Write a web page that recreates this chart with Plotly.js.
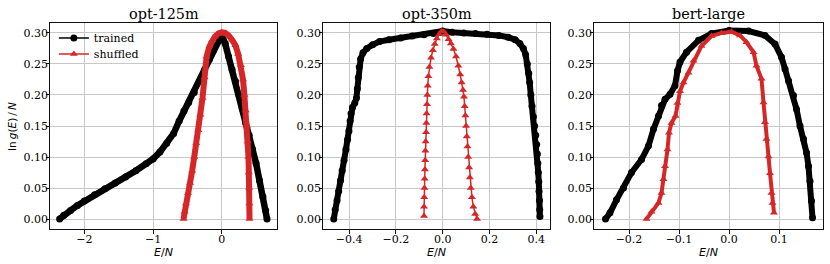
<!DOCTYPE html>
<html>
<head>
<meta charset="utf-8">
<script src="https://cdn.plot.ly/plotly-3.0.1.min.js"></script>
<style>html,body{margin:0;padding:0;background:#fff;}#chart{width:830px;height:264px;}</style>
</head>
<body>
<div id="chart"></div>
<script>
// ---- Data ----
const panelTitles = ["opt-125m", "opt-350m", "bert-large"];
const seriesNames = ["trained", "shuffled"];

// opt-125m
const opt125TrainedX = [-2.36,-2.30,-2.20,-2.10,-2.00,-1.85,-1.70,-1.55,-1.40,-1.25,-1.10,-1.00,-0.90,-0.80,-0.70,-0.62,-0.55,-0.48,-0.40,-0.32,-0.25,-0.18,-0.12,-0.06,0.00,0.05,0.10,0.15,0.20,0.25,0.30,0.35,0.40,0.45,0.50,0.55,0.60,0.64,0.66];
const opt125TrainedY = [0.000,0.006,0.014,0.022,0.029,0.039,0.049,0.058,0.068,0.078,0.089,0.097,0.108,0.122,0.138,0.158,0.174,0.188,0.204,0.222,0.240,0.257,0.272,0.286,0.297,0.283,0.262,0.241,0.222,0.200,0.178,0.155,0.135,0.113,0.090,0.062,0.036,0.014,0.000];
const opt125ShuffledX = [-0.556,-0.54,-0.52,-0.49,-0.46,-0.43,-0.40,-0.37,-0.34,-0.31,-0.28,-0.25,-0.22,-0.18,-0.14,-0.10,-0.05,0.00,0.05,0.10,0.15,0.20,0.24,0.28,0.31,0.33,0.35,0.37,0.38,0.39,0.395,0.40,0.403,0.405];
const opt125ShuffledY = [0.000,0.012,0.025,0.042,0.058,0.078,0.100,0.122,0.143,0.168,0.195,0.228,0.262,0.278,0.288,0.294,0.299,0.301,0.300,0.296,0.289,0.280,0.266,0.248,0.225,0.200,0.175,0.150,0.125,0.100,0.075,0.050,0.025,0.000];

// opt-350m
const opt350TrainedX = [-0.466,-0.460,-0.452,-0.445,-0.437,-0.430,-0.422,-0.414,-0.407,-0.401,-0.396,-0.392,-0.386,-0.376,-0.369,-0.365,-0.361,-0.357,-0.351,-0.341,-0.325,-0.300,-0.270,-0.230,-0.180,-0.130,-0.080,-0.040,0.000,0.040,0.090,0.140,0.190,0.240,0.280,0.310,0.330,0.345,0.355,0.362,0.368,0.372,0.377,0.382,0.388,0.393,0.398,0.402,0.405,0.407,0.409,0.411,0.412,0.414,0.415,0.416];
const opt350TrainedY = [0.000,0.015,0.030,0.045,0.062,0.078,0.095,0.112,0.128,0.142,0.158,0.170,0.180,0.187,0.195,0.210,0.228,0.245,0.258,0.268,0.275,0.281,0.286,0.289,0.292,0.295,0.297,0.299,0.303,0.301,0.300,0.299,0.298,0.296,0.293,0.289,0.283,0.275,0.265,0.250,0.235,0.220,0.200,0.182,0.165,0.150,0.135,0.120,0.105,0.090,0.075,0.060,0.045,0.030,0.015,0.004];
const opt350ShuffledX = [-0.080,-0.080,-0.079,-0.078,-0.077,-0.076,-0.075,-0.074,-0.073,-0.071,-0.070,-0.069,-0.067,-0.066,-0.064,-0.061,-0.057,-0.050,-0.042,-0.034,-0.025,-0.015,-0.005,0.005,0.015,0.025,0.035,0.046,0.057,0.067,0.075,0.081,0.087,0.091,0.094,0.097,0.100,0.103,0.106,0.109,0.113,0.116,0.120,0.125,0.131,0.139,0.147];
const opt350ShuffledY = [0.005,0.020,0.035,0.050,0.065,0.080,0.095,0.110,0.125,0.140,0.155,0.170,0.185,0.200,0.215,0.230,0.245,0.260,0.272,0.282,0.291,0.298,0.303,0.302,0.297,0.290,0.283,0.274,0.262,0.247,0.233,0.220,0.208,0.197,0.182,0.167,0.150,0.133,0.117,0.100,0.083,0.067,0.050,0.035,0.020,0.008,0.000];

// bert-large
const bertTrainedX = [-0.247,-0.238,-0.225,-0.211,-0.195,-0.175,-0.161,-0.151,-0.141,-0.135,-0.128,-0.118,-0.108,-0.103,-0.098,-0.085,-0.061,-0.035,0.000,0.039,0.072,0.092,0.105,0.112,0.119,0.129,0.135,0.142,0.149,0.155,0.159,0.162,0.165,0.167];
const bertTrainedY = [0.000,0.010,0.031,0.050,0.075,0.096,0.118,0.145,0.166,0.183,0.193,0.201,0.215,0.239,0.253,0.269,0.288,0.299,0.304,0.303,0.296,0.282,0.261,0.242,0.223,0.199,0.177,0.150,0.129,0.107,0.085,0.061,0.029,0.002];
const bertShuffledX = [-0.165,-0.155,-0.141,-0.135,-0.131,-0.128,-0.123,-0.120,-0.115,-0.107,-0.103,-0.098,-0.091,-0.081,-0.071,-0.055,-0.035,-0.015,0.005,0.022,0.035,0.049,0.055,0.065,0.069,0.072,0.075,0.079,0.082,0.085,0.087,0.090];
const bertShuffledY = [0.000,0.012,0.026,0.042,0.064,0.085,0.112,0.139,0.155,0.166,0.187,0.206,0.220,0.236,0.255,0.279,0.295,0.300,0.302,0.296,0.285,0.269,0.247,0.226,0.188,0.156,0.129,0.101,0.074,0.042,0.026,0.010];

// ---- Layout helpers ----
const domains = [[0, 227/773], [273/773, 500/773], [544/773, 1]];
const xRanges = [[-2.5, 0.805], [-0.512, 0.459], [-0.27, 0.188]];
const xDticks = [1, 0.2, 0.1];
const xFormats = [".0f", ".1f", ".1f"];
const yRange = [-0.016, 0.316];

const BLACK = "#000000";
const RED = "#d62728";
const TICKFONT = {family: "DejaVu Serif", size: 11, color: "#000"};

function trace(x, y, ax, color, symbol, lw, ms) {
  return {
    x: x, y: y, xaxis: "x" + (ax === 1 ? "" : ax), yaxis: "y" + (ax === 1 ? "" : ax),
    mode: "lines+markers", type: "scatter", showlegend: false,
    line: {color: color, width: lw},
    marker: {color: color, symbol: symbol, size: ms, line: {width: 0}},
    hoverinfo: "skip"
  };
}

const data = [
  trace(opt125TrainedX, opt125TrainedY, 1, BLACK, "circle", 6.5, 7),
  trace(opt125ShuffledX, opt125ShuffledY, 1, RED, "triangle-up", 6, 7),
  trace(opt350TrainedX, opt350TrainedY, 2, BLACK, "circle", 6, 7),
  trace(opt350ShuffledX, opt350ShuffledY, 2, RED, "triangle-up", 1.5, 7),
  trace(bertTrainedX, bertTrainedY, 3, BLACK, "circle", 6, 7),
  trace(bertShuffledX, bertShuffledY, 3, RED, "triangle-up", 4, 7),
  // legend entries (no points)
  {x: [null], y: [null], mode: "lines+markers", name: seriesNames[0], showlegend: true, legend: "legend",
   line: {color: BLACK, width: 1.5}, marker: {color: BLACK, symbol: "circle", size: 7}},
  {x: [null], y: [null], mode: "lines+markers", name: seriesNames[1], showlegend: true, legend: "legend2",
   line: {color: RED, width: 1.5}, marker: {color: RED, symbol: "triangle-up", size: 7}}
];
// empty traces so the label-only axes are built
for (let i = 0; i < 3; i++) {
  data.push({x: [null], y: [null], xaxis: "x" + (4 + i), yaxis: "y" + (4 + i), mode: "markers",
             showlegend: false, hoverinfo: "skip"});
}

const legendCommon = {xanchor: "left", yanchor: "middle", bgcolor: "rgba(0,0,0,0)", borderwidth: 0,
  font: {family: "DejaVu Serif", size: 11, color: "#000"}, itemwidth: 30};

const layout = {
  width: 830, height: 264,
  margin: {l: 50, r: 7, t: 23, b: 35, pad: 0},
  paper_bgcolor: "#ffffff", plot_bgcolor: "#ffffff",
  font: {family: "DejaVu Serif", size: 11, color: "#000"},
  showlegend: true,
  legend: Object.assign({x: 0.005, y: 1 - (38 - 23) / 206}, legendCommon),
  legend2: Object.assign({x: 0.005, y: 1 - (54 - 23) / 206}, legendCommon),
  annotations: []
};

for (let i = 0; i < 3; i++) {
  const sfx = i === 0 ? "" : String(i + 1);
  // frame, grid and tick marks
  layout["xaxis" + sfx] = {
    domain: domains[i], range: xRanges[i], anchor: "y" + sfx,
    dtick: xDticks[i], tick0: 0, showticklabels: false,
    showgrid: true, gridcolor: "#c8c8c8", gridwidth: 1, zeroline: false,
    showline: true, linecolor: "#111", linewidth: 1, mirror: true,
    ticks: "outside", ticklen: 3.5, tickwidth: 1, tickcolor: "#111"
  };
  layout["yaxis" + sfx] = {
    domain: [0, 1], range: yRange, anchor: "x" + sfx,
    dtick: 0.05, tick0: 0, showticklabels: false,
    showgrid: true, gridcolor: "#c8c8c8", gridwidth: 1, zeroline: false,
    showline: true, linecolor: "#111", linewidth: 1, mirror: true,
    ticks: "outside", ticklen: 3.5, tickwidth: 1, tickcolor: "#111"
  };
  // tick-label axes (same scales, labels only)
  layout["xaxis" + (4 + i)] = {
    overlaying: "x" + sfx, anchor: "free", position: 0, side: "bottom",
    range: xRanges[i], dtick: xDticks[i], tick0: 0, tickformat: xFormats[i],
    showgrid: false, zeroline: false, showline: false, ticks: "",
    ticklabelstandoff: 2, tickfont: TICKFONT
  };
  layout["yaxis" + (4 + i)] = {
    overlaying: "y" + sfx, anchor: "free", position: domains[i][0], side: "left",
    range: yRange, dtick: 0.05, tick0: 0, tickformat: ".2f",
    showgrid: false, zeroline: false, showline: false, ticks: "",
    ticklabelstandoff: 2, tickfont: TICKFONT
  };
  const cx = (domains[i][0] + domains[i][1]) / 2;
  layout.annotations.push({
    text: panelTitles[i], xref: "paper", yref: "paper", x: cx, y: 1.0437,
    xanchor: "center", yanchor: "middle", showarrow: false,
    font: {family: "DejaVu Serif", size: 14.4, color: "#000"}
  });
  layout.annotations.push({
    text: "<i>E</i>/<i>N</i>", xref: "paper", yref: "paper", x: cx, y: -(252 - 229) / 206,
    xanchor: "center", yanchor: "middle", showarrow: false,
    font: {family: "DejaVu Sans", size: 11, color: "#000"}
  });
}
layout.annotations.push({
  text: "ln\u2009<i>g</i>(<i>E</i>)\u2009/\u2009<i>N</i>", xref: "paper", yref: "paper",
  x: -0.0492, y: 0.5, xanchor: "center", yanchor: "middle", textangle: -90, showarrow: false,
  font: {family: "DejaVu Sans", size: 10.5, color: "#000"}
});

Plotly.newPlot("chart", data, layout, {staticPlot: true, displayModeBar: false});
</script>
</body>
</html>
